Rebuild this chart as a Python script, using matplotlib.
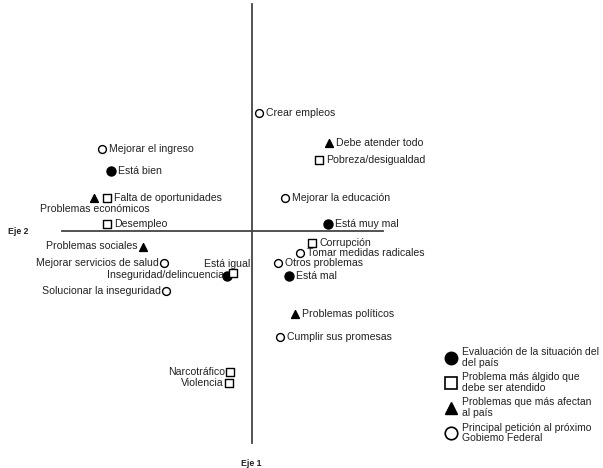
import matplotlib.pyplot as plt
from matplotlib.lines import Line2D

plt.rcParams['font.family'] = ['Liberation Sans', 'DejaVu Sans']

# Correspondence analysis scores (Eje 1 = horizontal, Eje 2 = vertical)
eval_names = ['Está bien', 'Está igual', 'Está muy mal', 'Está mal']
eval_x = [-1.41, -0.25, 0.76, 0.37]
eval_y = [0.60, -0.45, 0.07, -0.45]

prob_names = ['Falta de oportunidades', 'Desempleo', 'Inseguridad/delincuencia',
              'Pobreza/desigualdad', 'Corrupción', 'Narcotráfico', 'Violencia']
prob_x = [-1.45, -1.45, -0.19, 0.67, 0.60, -0.22, -0.23]
prob_y = [0.33, 0.07, -0.42, 0.71, -0.12, -1.41, -1.52]

afect_names = ['Problemas económicos', 'Problemas sociales', 'Debe atender todo',
               'Problemas políticos']
afect_x = [-1.58, -1.09, 0.77, 0.43]
afect_y = [0.33, -0.16, 0.88, -0.83]

pet_names = ['Crear empleos', 'Mejorar el ingreso', 'Mejorar servicios de salud',
             'Solucionar la inseguridad', 'Mejorar la educación',
             'Tomar medidas radicales', 'Otros problemas', 'Cumplir sus promesas']
pet_x = [0.07, -1.50, -0.88, -0.86, 0.33, 0.48, 0.26, 0.28]
pet_y = [1.18, 0.82, -0.32, -0.60, 0.33, -0.22, -0.32, -1.06]

legend_labels = ['Evaluación de la situación del\ndel país',
                 'Problema más álgido que\ndebe ser atendido',
                 'Problemas que más afectan\nal país',
                 'Principal petición al próximo\nGobiemo Federal']

# label placement: (dx, dy) in pixels, ha
place = {
    'Problemas económicos': (1, -11, 'center'),
    'Está igual': (0, 12, 'center'),
    'Inseguridad/delincuencia': (-9, -2, 'right'),
    'Problemas sociales': (-5, 1, 'right'),
    'Mejorar servicios de salud': (-5, 0, 'right'),
    'Solucionar la inseguridad': (-5, 0, 'right'),
    'Narcotráfico': (-5, 0, 'right'),
    'Violencia': (-5, 0, 'right'),
}

fig = plt.figure(figsize=(6.03, 4.68), dpi=100)
ax = fig.add_axes([0, 0, 1, 1])
ax.set_xlim(-2.52, 3.51)
ax.set_ylim(-2.37, 2.31)
ax.axis('off')

# axes lines
ax.plot([-1.90, 1.31], [0, 0], color='#444444', lw=1.3, zorder=1)
ax.plot([0, 0], [-2.12, 2.27], color='#444444', lw=1.3, zorder=1)
ax.text(-2.44, -0.01, 'Eje 2', fontsize=6.3, fontweight='bold', ha='left', va='center', color='#222222')
ax.text(-0.01, -2.33, 'Eje 1', fontsize=6.3, fontweight='bold', ha='center', va='center', color='#222222')

ms = 32
ax.scatter(eval_x, eval_y, s=42, marker='o', color='black', zorder=3)
ax.scatter(prob_x, prob_y, s=ms, marker='s', facecolor='white', edgecolor='black', linewidth=1.0, zorder=3)
ax.scatter(afect_x, afect_y, s=ms, marker='^', color='black', zorder=3)
ax.scatter(pet_x, pet_y, s=ms, marker='o', facecolor='white', edgecolor='black', linewidth=1.0, zorder=3)

for names, xs, ys in [(eval_names, eval_x, eval_y), (prob_names, prob_x, prob_y),
                      (afect_names, afect_x, afect_y), (pet_names, pet_x, pet_y)]:
    for n, x, y in zip(names, xs, ys):
        dx, dy, ha = place.get(n, (7, 0, 'left'))
        ax.annotate(n, (x, y), xytext=(dx, dy), textcoords='offset pixels',
                    ha=ha, va='center', fontsize=7.6, color='#222222', zorder=4)

handles = [
    Line2D([], [], marker='o', linestyle='', markersize=9, color='black'),
    Line2D([], [], marker='s', linestyle='', markersize=9, markerfacecolor='white',
           markeredgecolor='black', markeredgewidth=1.2),
    Line2D([], [], marker='^', linestyle='', markersize=8, color='black'),
    Line2D([], [], marker='o', linestyle='', markersize=9, markerfacecolor='white',
           markeredgecolor='black', markeredgewidth=1.2),
]
leg = fig.legend(handles, legend_labels, loc='upper left', bbox_to_anchor=(0.737, 0.258),
                 frameon=False, fontsize=7.5, labelspacing=0.45, handletextpad=0.45,
                 handlelength=1.2, borderpad=0, borderaxespad=0)
for t in leg.get_texts():
    t.set_color('#222222')
    t.set_linespacing(1.05)

fig.savefig('out.png', dpi=100)
